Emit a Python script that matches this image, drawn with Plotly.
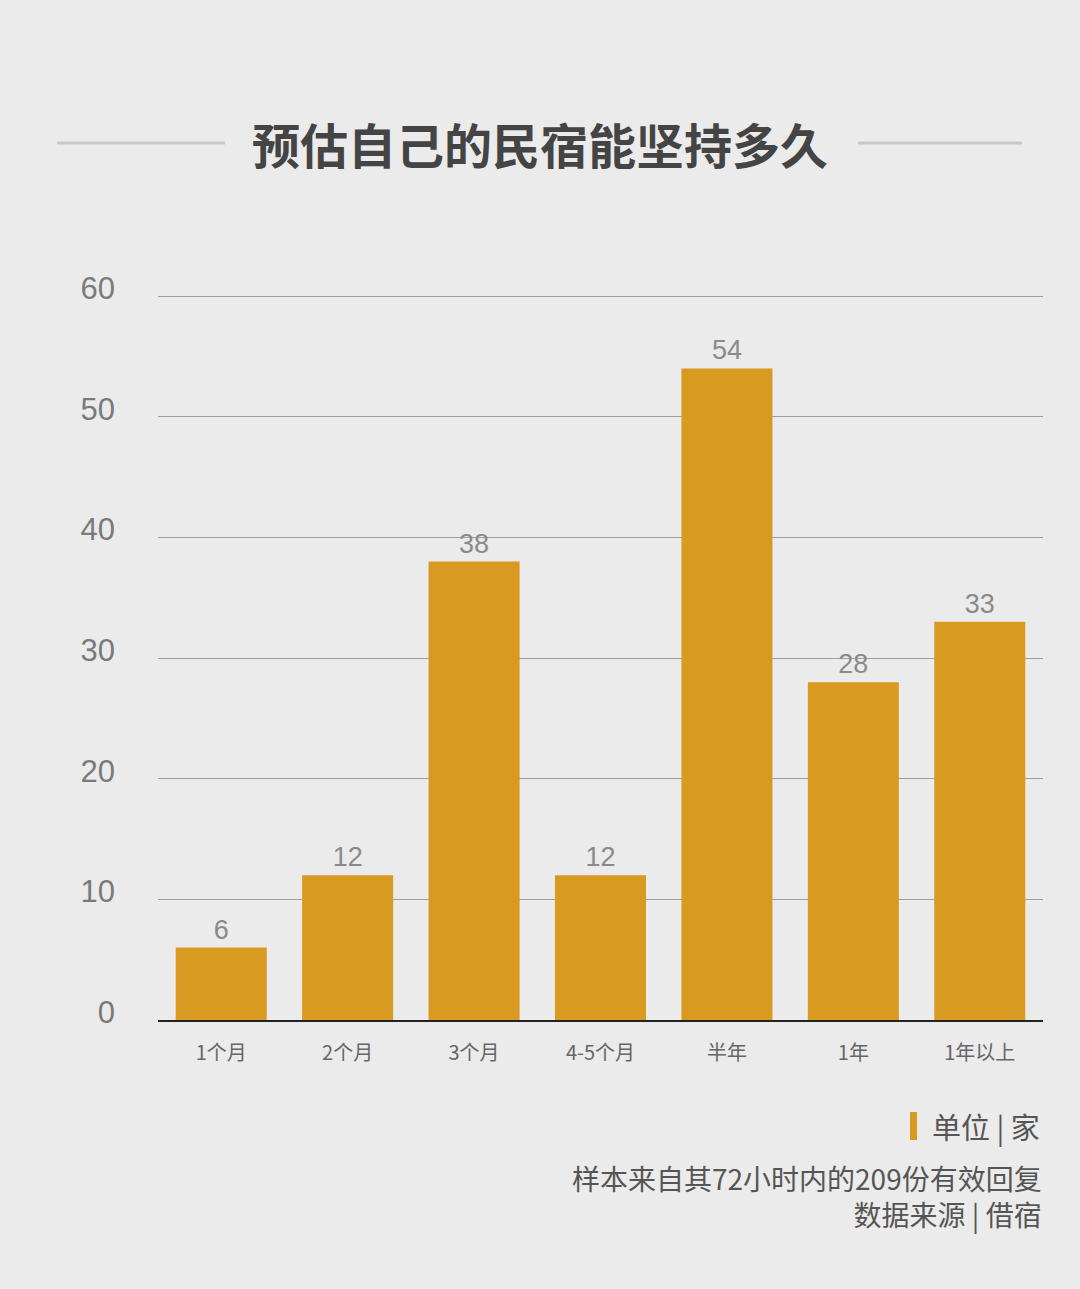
import plotly.graph_objects as go

# Survey: how long hosts expect their guesthouse to survive
categories = ["1个月", "2个月", "3个月", "4-5个月", "半年", "1年", "1年以上"]
counts = [6, 12, 38, 12, 54, 28, 33]
y_ticks = [0, 10, 20, 30, 40, 50, 60]

title_text = "预估自己的民宿能坚持多久"
unit_text = "单位 | 家"
note_lines = ["样本来自其72小时内的209份有效回复", "数据来源 | 借宿"]

BG = "#ebebeb"
BAR = "#d99a22"
FONT = "Noto Sans CJK SC"

# plot area geometry (pixels)
L, R, T, B = 158, 37, 284, 269
PW = 1080 - L - R
PH = 1289 - T - B
Y_TOP = 61


def px_x(x):
    return (x - L) / PW


def px_y(y):
    return (1289 - B - y) / PH


fig = go.Figure(
    go.Bar(
        x=categories,
        y=counts,
        marker=dict(color=BAR, line=dict(width=0)),
        text=[str(v) for v in counts],
        textposition="outside",
        textfont=dict(family="Liberation Sans", size=27, color="#8a8a8a"),
        cliponaxis=False,
        width=0.72,
    )
)

fig.update_layout(
    width=1080,
    height=1289,
    paper_bgcolor=BG,
    plot_bgcolor=BG,
    margin=dict(l=L, r=R, t=T, b=B),
    showlegend=False,
    font=dict(family=FONT, color="#666666"),
)

fig.update_xaxes(
    showgrid=False,
    tickfont=dict(family=FONT, size=20, color="#666666"),
    ticks="",
    ticklabelstandoff=14,
    showline=True,
    linecolor="#222222",
    linewidth=2,
)

fig.update_yaxes(
    range=[0, Y_TOP],
    tickvals=y_ticks,
    ticktext=[str(v) for v in y_ticks],
    tickfont=dict(family="Liberation Sans", size=31, color="#7a7a7a"),
    showgrid=True,
    gridcolor="#9e9e9e",
    gridwidth=1,
    zeroline=False,
    ticks="",
    ticklabelstandoff=42,
    ticklabelshift=-8,
)

# Title with decorative rules on both sides
fig.add_annotation(
    text=f"<b>{title_text}</b>",
    xref="paper", yref="paper", x=px_x(540), y=px_y(143),
    xanchor="center", yanchor="middle",
    showarrow=False,
    font=dict(family=FONT, size=48, color="#444444"),
)
for x0, x1 in [(57, 225), (858, 1022)]:
    fig.add_shape(
        type="line",
        xref="paper", yref="paper",
        x0=px_x(x0), x1=px_x(x1),
        y0=px_y(143), y1=px_y(143),
        line=dict(color="#c8c8c8", width=3),
    )

# Unit legend: small orange marker + label
fig.add_shape(
    type="rect",
    xref="paper", yref="paper",
    x0=px_x(910), x1=px_x(917),
    y0=px_y(1140), y1=px_y(1112),
    fillcolor=BAR, line=dict(width=0),
)
fig.add_annotation(
    text=unit_text,
    xref="paper", yref="paper", x=px_x(1042), y=px_y(1126),
    xanchor="right", yanchor="middle", showarrow=False,
    font=dict(family=FONT, size=29, color="#555555"),
)
fig.add_annotation(
    text="<br>".join(note_lines),
    xref="paper", yref="paper", x=px_x(1044), y=px_y(1196),
    xanchor="right", yanchor="middle", align="right", showarrow=False,
    font=dict(family=FONT, size=28, color="#555555"),
)

fig.write_html("out.html")
